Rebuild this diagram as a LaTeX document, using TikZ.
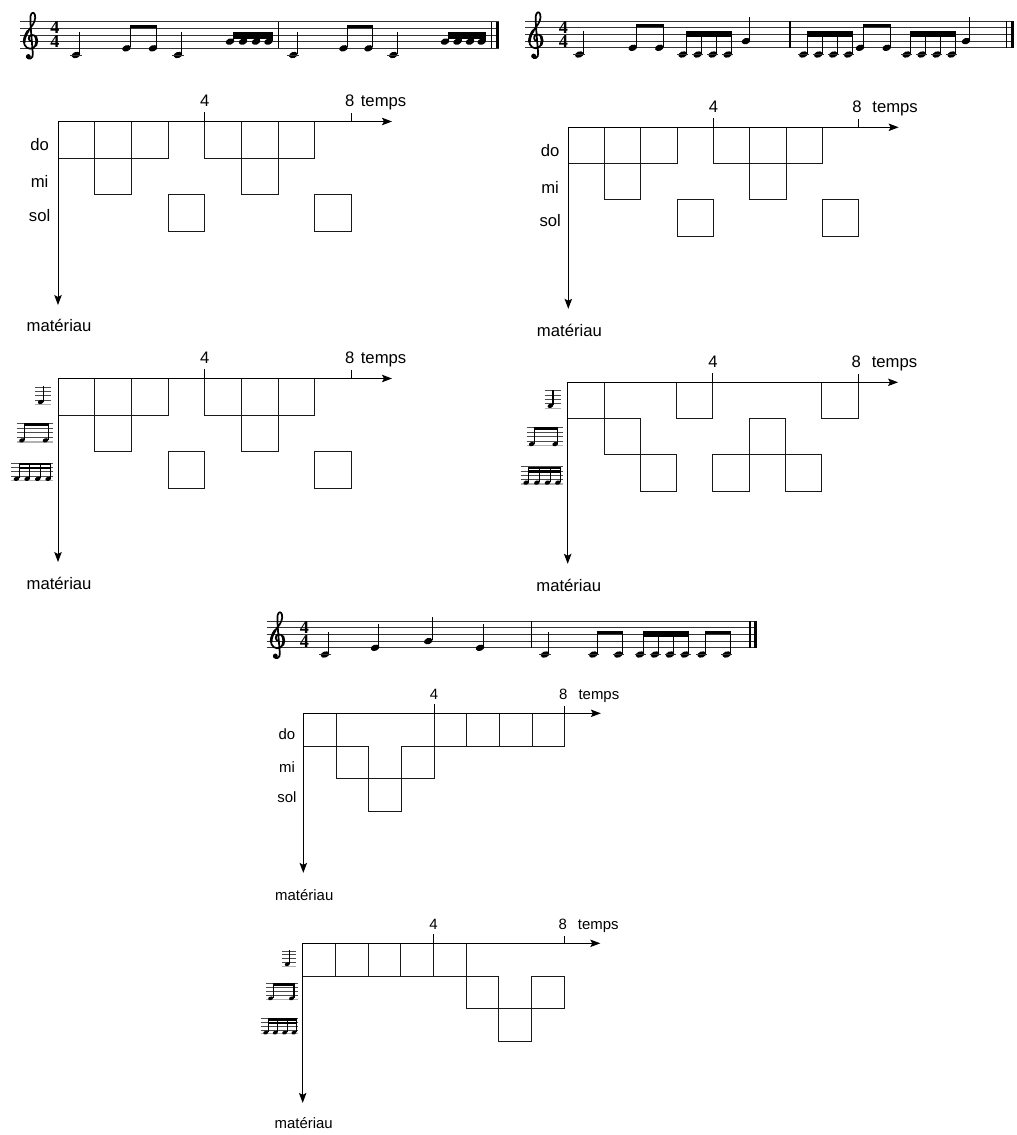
\documentclass[tikz,border=0pt]{standalone}
\usepackage{fontspec}
\setmainfont{Liberation Sans}
\newfontfamily\tsfont{Liberation Serif}
\usetikzlibrary{arrows.meta}

\tikzset{
  staffline/.style={line width=0.6pt, black!80},
  iconline/.style={line width=0.5pt, black!70},
  icongray/.style={line width=1pt, black!30},
  stem/.style={line width=0.8pt},
  beam/.style={line width=2.5pt},
  gridline/.style={line width=0.75pt, black!90},
  axisline/.style={line width=0.75pt, -{Stealth[length=7.5pt, width=5.6pt, inset=1.5pt]}},
  tickln/.style={line width=0.75pt},
  lblA/.style={font=\fontsize{12.5}{15}\selectfont, inner sep=0pt},
  lblB/.style={font=\fontsize{11.2}{13}\selectfont, inner sep=0pt},
  tsig/.style={font=\tsfont\bfseries\fontsize{13.6}{10.35}\selectfont, inner sep=0pt, align=center},
}

% notation helpers (px coordinates, y downward)
\newcommand{\nhd}[2]{\fill[rotate around={20:(#1,#2)}] (#1,#2) ellipse [x radius=3.3pt, y radius=2.3pt];}
\newcommand{\qn}[3]{\nhd{#1}{#2}\draw[stem] (#1+3.9,#2-1) -- (#1+3.9,#3);}
\newcommand{\ldg}[2]{\draw[staffline] (#1-6,#2) -- (#1+6,#2);}
\newcommand{\bmm}[3]{\draw[beam] (#1+3.35,#3+1.65) -- (#2+4.45,#3+1.65);}
\newcommand{\stf}[3]{\foreach \k in {0,...,4}{\draw[staffline] (#1,#3+\k*6.7) -- (#2,#3+\k*6.7);}}
\newcommand{\barln}[3]{\draw[line width=0.8pt] (#1,#2) -- (#1,#3);}
\newcommand{\finalbar}[3]{\draw[line width=0.8pt] (#1,#2) -- (#1,#3); \fill (#1+3.8,#2) rectangle (#1+7.3,#3);}
\newcommand{\gclef}[2]{%
  \begin{scope}[shift={(#1,#2)}, x=5.03pt, y=5.03pt]
    \draw[line width=1.3pt, line cap=round, line join=round]
      (0.25,1.0)
      .. controls (-0.35,0.95) and (-0.45,1.85) .. (0.1,2.0)
      .. controls (0.8,2.15) and (1.15,1.2) .. (0.8,0.45)
      .. controls (0.45,-0.25) and (-0.6,-0.25) .. (-0.9,0.55)
      .. controls (-1.2,1.35) and (-0.6,2.35) .. (0.0,3.05)
      .. controls (0.5,3.65) and (0.85,4.4) .. (0.65,5.0)
      .. controls (0.5,5.45) and (0.15,5.4) .. (0.02,4.85)
      .. controls (-0.12,4.2) and (0.22,1.0) .. (0.35,-0.85)
      .. controls (0.42,-1.5) and (-0.25,-1.8) .. (-0.55,-1.3);
    \draw[line width=2pt, line cap=round]
      (0.8,1.7) .. controls (1.0,1.3) and (1.0,0.8) .. (0.8,0.45);
    \draw[line width=2pt, line cap=round]
      (-0.95,0.9) .. controls (-0.95,1.5) and (-0.7,2.1) .. (-0.35,2.6);
    \fill (-0.32,-1.22) circle (0.36);
  \end{scope}}

% small rhythm icons (px relative to panel origin)
\newcommand{\inh}[2]{\fill[rotate around={20:(#1,#2)}] (#1,#2) ellipse [x radius=2.2pt, y radius=1.55pt];}
\newcommand{\noteicons}{%
  \foreach \yy in {8.5,12.8,17.1,21.4}{\draw[iconline] (-23,\yy) -- (-7,\yy);}
  \draw[icongray] (-23,26) -- (-7,26);
  \inh{-17.3}{23.5}
  \draw[stem] (-14.7,23) -- (-14.7,7.5);
  \foreach \yy in {45,49.6,54.2,58.8}{\draw[iconline] (-41,\yy) -- (-5,\yy);}
  \draw[icongray] (-41,63.4) -- (-5,63.4);
  \inh{-36}{61.8}\inh{-12.5}{61.8}
  \draw[stem] (-33.3,61.2) -- (-33.3,45);
  \draw[stem] (-9.8,61.2) -- (-9.8,45);
  \draw[line width=2pt] (-33.8,46.1) -- (-9.3,46.1);
  \foreach \yy in {84.5,88.8,93.1,97.4}{\draw[iconline] (-47,\yy) -- (-5,\yy);}
  \draw[icongray] (-47,101.7) -- (-5,101.7);
  \foreach \xx in {-41.5,-30.8,-20.2,-9.8}{\inh{\xx}{100.3}\draw[stem] (\xx+2.7,99.7) -- (\xx+2.7,84.5);}
  \draw[line width=1.8pt] (-39.2,85.6) -- (-6.7,85.6);
  \draw[line width=1.8pt] (-39.2,89.2) -- (-6.7,89.2);
}

% panel helpers (cell units)
\newcommand{\pnlaxes}[4]{% prefix, temps offset, vertical length, materiau baseline
  \draw[axisline] (0,0) -- (9.1,0);
  \draw[axisline] (0,0) -- (0,#3);
  \draw[tickln] (4,0) -- (4,-0.27);
  \draw[tickln] (8,0) -- (8,-0.22);
  \node[lbl, anchor=base] (#1-4) at (4,-0.42) {4};
  \node[lbl, anchor=base] (#1-8) at (7.95,-0.42) {8};
  \node[lbl, anchor=base west] (#1-t) at (8+#2,-0.42) {temps};
  \node[lbl, anchor=base] (#1-m) at (0.03,#4) {matériau};
}
\newcommand{\rowlbl}[1]{%
  \node[lbl, anchor=base] (#1-do) at (-0.5,0.80) {do};
  \node[lbl, anchor=base] (#1-mi) at (-0.5,1.81) {mi};
  \node[lbl, anchor=base] (#1-sol) at (-0.5,2.72) {sol};
}

\begin{document}
\begin{tikzpicture}[x=0.75pt, y=-0.75pt]
\useasboundingbox (0,0) rectangle (1017,1135);

%================ staff 1
\stf{20}{499}{21.5}
\gclef{30.5}{48.3}
\node[tsig] (ts1) at (55,34.9) {4\\4};
\qn{76}{55}{32}\ldg{76}{55}
\qn{126.5}{48.3}{25}\qn{153}{48.3}{25}\bmm{126.5}{153}{25}
\qn{178}{55}{32}\ldg{178}{55}
\foreach \xx in {230,243,256,268.5}{\qn{\xx}{41.6}{32.5}}
\bmm{230}{268.5}{32.5}\bmm{230}{268.5}{35.6}
\barln{278.3}{21.5}{48.3}
\qn{293.3}{55}{32}\ldg{293.3}{55}
\qn{343.5}{48.3}{25}\qn{368.5}{48.3}{25}\bmm{343.5}{368.5}{25}
\qn{393.3}{55}{32}\ldg{393.3}{55}
\foreach \xx in {445,457.5,470,481.7}{\qn{\xx}{41.6}{32.5}}
\bmm{445}{481.7}{32.5}\bmm{445}{481.7}{35.6}
\finalbar{491.7}{21.5}{48.3}

%================ staff 2
\stf{525}{1014}{21}
\gclef{535.8}{47.8}
\node[tsig] (ts2) at (563.3,34.4) {4\\4};
\qn{579.3}{54.5}{31}\ldg{579.3}{54.5}
\qn{632.7}{47.8}{24}\qn{659.3}{47.8}{24}\bmm{632.7}{659.3}{24}
\foreach \xx in {682.7,697.7,712.7,727.7}{\qn{\xx}{54.5}{30.7}\draw[staffline] (\xx-5.5,54.5) -- (\xx+5.5,54.5);}
\bmm{682.7}{727.7}{30.7}\bmm{682.7}{727.7}{34.1}
\qn{746}{41.1}{16.7}
\barln{790}{21}{47.8}
\foreach \xx in {803.3,818.3,833.3,848.3}{\qn{\xx}{54.5}{30.7}\draw[staffline] (\xx-5.5,54.5) -- (\xx+5.5,54.5);}
\bmm{803.3}{848.3}{30.7}\bmm{803.3}{848.3}{34.1}
\qn{860}{47.8}{24}\qn{886.7}{47.8}{24}\bmm{860}{886.7}{24}
\foreach \xx in {906.7,921.7,936.7,951.7}{\qn{\xx}{54.5}{30.7}\draw[staffline] (\xx-5.5,54.5) -- (\xx+5.5,54.5);}
\bmm{906.7}{951.7}{30.7}\bmm{906.7}{951.7}{34.1}
\qn{966}{41.1}{16.7}
\finalbar{1006.7}{21}{47.8}

%================ staff 3
\stf{266.7}{757.3}{621}
\gclef{277.5}{647.8}
\node[tsig] (ts3) at (304.5,634.4) {4\\4};
\qn{325}{654.5}{631.7}\ldg{325}{654.5}
\qn{375}{647.8}{624.3}
\qn{428.3}{641.1}{617.3}
\qn{480}{647.8}{624.3}
\barln{531.7}{621}{647.8}
\qn{545}{654.5}{631.7}\ldg{545}{654.5}
\foreach \xx in {593.3,618.3}{\qn{\xx}{654.5}{630.7}\draw[staffline] (\xx-5.5,654.5) -- (\xx+5.5,654.5);}
\bmm{593.3}{618.3}{630.7}
\foreach \xx in {640,655,670,685}{\qn{\xx}{654.5}{630.7}\draw[staffline] (\xx-5.5,654.5) -- (\xx+5.5,654.5);}
\bmm{640}{685}{630.7}\bmm{640}{685}{634.1}
\foreach \xx in {701.7,726.7}{\qn{\xx}{654.5}{630.7}\draw[staffline] (\xx-5.5,654.5) -- (\xx+5.5,654.5);}
\bmm{701.7}{726.7}{630.7}
\finalbar{750}{621}{647.8}

%================ panel 1
\begin{scope}[shift={(58,121.5)}, x=27.525pt, y=-27.525pt, lbl/.style={lblA}]
  \foreach \cc/\rr in {0/0,2/0,4/0,6/0,1/1,5/1,3/2,7/2}{\draw[gridline] (\cc,\rr) rectangle ++(1,1);}
  \pnlaxes{p1}{0.245}{5.0}{5.71}
  \rowlbl{p1}
\end{scope}

%================ panel 2
\begin{scope}[shift={(568.3,127.3)}, x=27.225pt, y=-27.225pt, lbl/.style={lblA}]
  \foreach \cc/\rr in {0/0,2/0,4/0,6/0,1/1,5/1,3/2,7/2}{\draw[gridline] (\cc,\rr) rectangle ++(1,1);}
  \pnlaxes{p2}{0.37}{5.0}{5.76}
  \rowlbl{p2}
\end{scope}

%================ panel 3
\begin{scope}[shift={(58,378.5)}, x=27.525pt, y=-27.525pt, lbl/.style={lblA}]
  \foreach \cc/\rr in {0/0,2/0,4/0,6/0,1/1,5/1,3/2,7/2}{\draw[gridline] (\cc,\rr) rectangle ++(1,1);}
  \pnlaxes{p3}{0.245}{5.0}{5.76}
\end{scope}
\begin{scope}[shift={(58,378.5)}]
  \noteicons
\end{scope}

%================ panel 4
\begin{scope}[shift={(567.7,382.3)}, x=27.225pt, y=-27.225pt, lbl/.style={lblA}]
  \foreach \cc/\rr in {0/0,3/0,7/0,1/1,5/1,2/2,4/2,6/2}{\draw[gridline] (\cc,\rr) rectangle ++(1,1);}
  \pnlaxes{p4}{0.37}{5.0}{5.75}
\end{scope}
\begin{scope}[shift={(567.7,382.3)}]
  \noteicons
\end{scope}

%================ panel 5
\begin{scope}[shift={(303.3,713.3)}, x=24.525pt, y=-24.525pt, lbl/.style={lblB}]
  \foreach \cc/\rr in {0/0,4/0,5/0,6/0,7/0,1/1,3/1,2/2}{\draw[gridline] (\cc,\rr) rectangle ++(1,1);}
  \pnlaxes{p5}{0.41}{4.88}{5.72}
  \rowlbl{p5}
\end{scope}

%================ panel 6
\begin{scope}[shift={(302.7,943.3)}, x=24.525pt, y=-24.525pt, lbl/.style={lblB}]
  \foreach \cc/\rr in {0/0,1/0,2/0,3/0,4/0,5/1,7/1,6/2}{\draw[gridline] (\cc,\rr) rectangle ++(1,1);}
  \pnlaxes{p6}{0.41}{4.88}{5.65}
\end{scope}
\begin{scope}[shift={(302.7,943.3)}, scale=0.89]
  \noteicons
\end{scope}

\end{tikzpicture}
\end{document}
